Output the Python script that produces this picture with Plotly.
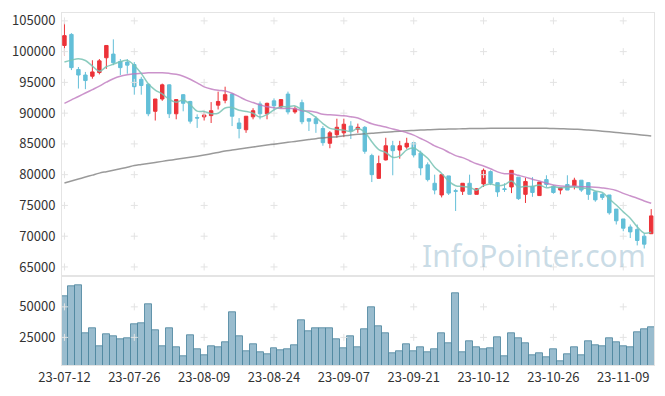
import plotly.graph_objects as go
from plotly.subplots import make_subplots

dates = [
    "23-07-12", "23-07-13", "23-07-14", "23-07-17", "23-07-18", "23-07-19", "23-07-20", "23-07-21", "23-07-24", "23-07-25",
    "23-07-26", "23-07-27", "23-07-28", "23-07-31", "23-08-01", "23-08-02", "23-08-03", "23-08-04", "23-08-07", "23-08-08",
    "23-08-09", "23-08-10", "23-08-11", "23-08-14", "23-08-16", "23-08-17", "23-08-18", "23-08-21", "23-08-22", "23-08-23",
    "23-08-24", "23-08-25", "23-08-28", "23-08-29", "23-08-30", "23-08-31", "23-09-01", "23-09-04", "23-09-05", "23-09-06",
    "23-09-07", "23-09-08", "23-09-11", "23-09-12", "23-09-13", "23-09-14", "23-09-15", "23-09-18", "23-09-19", "23-09-20",
    "23-09-21", "23-09-22", "23-09-25", "23-09-26", "23-09-27", "23-10-04", "23-10-05", "23-10-06", "23-10-10", "23-10-11",
    "23-10-12", "23-10-13", "23-10-16", "23-10-17", "23-10-18", "23-10-19", "23-10-20", "23-10-23", "23-10-24", "23-10-25",
    "23-10-26", "23-10-27", "23-10-30", "23-10-31", "23-11-01", "23-11-02", "23-11-03", "23-11-06", "23-11-07", "23-11-08",
    "23-11-09", "23-11-10", "23-11-13", "23-11-14", "23-11-15",
]

open_ = [101000, 102800, 97100, 96200, 96000, 96600, 99000, 99600, 98400, 98300,
         97900, 95500, 94700, 90300, 92300, 94600, 89900, 93000, 91900, 89300,
         89400, 89600, 91300, 92100, 93100, 88400, 87300, 89400, 91500, 89900,
         92000, 91000, 93100, 90200, 91700, 89100, 89100, 87500, 85100, 86500,
         86800, 87900, 87400, 87700, 83100, 79400, 82400, 84700, 84000, 84500,
         85200, 83500, 81600, 78600, 76700, 79800, 77400, 77300, 78600, 76800,
         78500, 80500, 78700, 77700, 78000, 79600, 76800, 78100, 76600, 79200,
         78100, 77500, 78400, 78200, 79100, 78700, 77200, 76800, 76700, 74400,
         72800, 71500, 71100, 70000, 70400]
high = [104700, 103000, 97500, 96700, 98600, 98800, 101000, 102000, 98800, 98800,
        98300, 95900, 94800, 92300, 94800, 94700, 92300, 93100, 92000, 89800,
        90300, 91800, 93500, 94300, 93200, 89200, 89500, 90800, 91900, 91700,
        92400, 92300, 93500, 91100, 92200, 89200, 89500, 87900, 87100, 89100,
        89100, 88700, 88300, 87900, 83400, 83100, 86000, 85500, 85500, 86000,
        85200, 83900, 82000, 80000, 80000, 79800, 77700, 78600, 80000, 77800,
        81000, 80700, 78700, 78600, 80700, 79600, 79500, 79600, 78800, 79900,
        78300, 78000, 79900, 79500, 79100, 78800, 77300, 77000, 76700, 74400,
        72800, 71900, 71900, 70500, 74400]
low = [99400, 97000, 94000, 93900, 95600, 96300, 97200, 97800, 96200, 96400,
       93000, 93000, 89500, 88800, 92000, 89200, 89000, 90300, 88300, 87600,
       88800, 88400, 90600, 91600, 87900, 85900, 86800, 89000, 89000, 89000,
       90300, 90800, 89800, 89900, 88200, 87100, 86800, 84700, 84300, 86000,
       86100, 85800, 86800, 83400, 78800, 79400, 82300, 79900, 82600, 84200,
       82800, 79900, 78900, 76800, 76300, 76700, 74100, 76700, 76800, 76800,
       78000, 78300, 76400, 77200, 77000, 75900, 75400, 76400, 76600, 78000,
       76900, 76800, 77500, 77600, 77200, 75900, 75600, 75900, 73500, 71900,
       70800, 69700, 68500, 68000, 70400]
close = [102600, 97400, 96200, 95300, 96700, 98500, 101000, 98200, 97400, 97800,
         94300, 94500, 89900, 92300, 94600, 89900, 92200, 91600, 88700, 89200,
         89700, 90400, 91900, 93000, 89500, 87500, 89500, 90400, 89900, 91600,
         91200, 92200, 90200, 90700, 88600, 88700, 88300, 85200, 86800, 87700,
         88200, 87100, 87700, 83800, 80000, 81800, 84700, 83900, 84700, 85100,
         83200, 81100, 79200, 77500, 80000, 77000, 77300, 78600, 76800, 77700,
         80700, 78600, 77200, 77600, 80700, 76100, 78900, 77100, 78800, 78400,
         77100, 77900, 77500, 79100, 77500, 76800, 75900, 76300, 73800, 72500,
         71300, 70700, 69300, 68700, 73300]

ma5 = [98320, 98620, 98840, 98560, 97640, 96820, 97540, 97940, 98360, 98580,
       97740, 96440, 94780, 93760, 93120, 92240, 91780, 92120, 91400, 90320,
       90280, 89920, 89980, 90840, 90900, 90460, 90280, 89980, 89360, 89780,
       90520, 91060, 91020, 91180, 90580, 90080, 89300, 88300, 87520, 87340,
       87240, 87000, 87500, 86900, 85360, 84080, 83600, 82840, 83020, 84040,
       84320, 83600, 82660, 81220, 80200, 78960, 78200, 78080, 77940, 77480,
       78220, 78480, 78200, 78360, 78960, 78040, 78100, 78080, 78320, 77860,
       78060, 77860, 77940, 78000, 77820, 77760, 77360, 77120, 76060, 75060,
       73960, 72920, 71520, 70500, 70660]
ma20 = [91590, 92150, 92700, 93270, 93830, 94390, 95030, 95590, 95990, 96230,
        96390, 96470, 96550, 96550, 96550, 96470, 96310, 95990, 95510, 94920,
        94270, 93920, 93710, 93590, 93230, 92680, 92110, 91720, 91340, 91030,
        90880, 90760, 90780, 90700, 90400, 90340, 90140, 89820, 89730, 89650,
        89580, 89410, 89200, 88740, 88270, 87980, 87740, 87420, 87160, 86830,
        86430, 85880, 85330, 84670, 84240, 83650, 83100, 82770, 82270, 81770,
        81400, 80970, 80450, 80140, 80170, 79890, 79600, 79260, 78960, 78630,
        78320, 78160, 78080, 78160, 78030, 78020, 77950, 77840, 77690, 77430,
        76960, 76560, 76170, 75720, 75350]
ma120 = [78650, 78970, 79290, 79610, 79930, 80250, 80490, 80730, 80970, 81210,
         81480, 81650, 81820, 81990, 82160, 82330, 82500, 82670, 82840, 83010,
         83200, 83400, 83600, 83850, 84000, 84170, 84330, 84490, 84650, 84810,
         84960, 85110, 85260, 85400, 85550, 85700, 85850, 85970, 86080, 86180,
         86310, 86430, 86550, 86660, 86730, 86820, 86900, 86980, 87060, 87150,
         87200, 87250, 87300, 87350, 87380, 87410, 87430, 87460, 87490, 87510,
         87520, 87530, 87540, 87540, 87550, 87550, 87550, 87540, 87540, 87530,
         87510, 87480, 87440, 87390, 87330, 87250, 87160, 87070, 86970, 86860,
         86750, 86640, 86520, 86400, 86290]

volume = [58900, 66900, 67700, 28200, 32300, 17700, 27400, 26300, 23400, 24200,
          35500, 36300, 51800, 30600, 17700, 32300, 16900, 9700, 26600, 15300,
          10500, 17700, 16900, 21000, 45200, 25800, 13700, 19400, 12900, 11300,
          16100, 14500, 15300, 18500, 38700, 29800, 32300, 32300, 32300, 23400,
          16100, 25800, 16900, 31500, 50000, 33900, 28200, 12100, 13700, 19400,
          13700, 16900, 12900, 15300, 28200, 20200, 61300, 12900, 21800, 16900,
          15300, 16100, 25000, 9700, 28200, 24200, 20200, 10500, 12100, 8900,
          15300, 5600, 11300, 16900, 10500, 21800, 18500, 17700, 24200, 21000,
          17700, 16900, 29000, 31500, 33100]

price_ticks = [65000, 70000, 75000, 80000, 85000, 90000, 95000, 100000, 105000]
volume_ticks = [25000, 50000]
date_ticks = dates[::10]

UP = "#ec3238"
DOWN = "#63bfd8"
FONT = "Noto Sans CJK KR"
LINE = "#e4e4e4"
GRIDMARK = "#e3e3e3"

fig = make_subplots(rows=2, cols=1, shared_xaxes=True, vertical_spacing=0,
                    row_heights=[0.748, 0.252])

# grid cross marks at tick intersections
gx = [d for d in date_ticks for _ in price_ticks]
gy = [p for _ in date_ticks for p in price_ticks]
fig.add_trace(go.Scatter(x=gx, y=gy, mode="markers", hoverinfo="skip", showlegend=False,
                         marker=dict(symbol="cross-thin", size=5,
                                     line=dict(color=GRIDMARK, width=1))), row=1, col=1)
vx = [d for d in date_ticks for _ in volume_ticks]
vy = [v for _ in date_ticks for v in volume_ticks]
fig.add_trace(go.Scatter(x=vx, y=vy, mode="markers", hoverinfo="skip", showlegend=False,
                         marker=dict(symbol="cross-thin", size=5,
                                     line=dict(color=GRIDMARK, width=1))), row=2, col=1)

fig.add_trace(go.Candlestick(
    x=dates, open=open_, high=high, low=low, close=close,
    increasing=dict(line=dict(color=UP, width=1), fillcolor=UP),
    decreasing=dict(line=dict(color=DOWN, width=1), fillcolor=DOWN),
    whiskerwidth=0, showlegend=False), row=1, col=1)

fig.add_trace(go.Scatter(x=dates, y=ma120, mode="lines", showlegend=False,
                         line=dict(color="rgba(120,120,120,0.75)", width=1.5, shape="spline")),
              row=1, col=1)
fig.add_trace(go.Scatter(x=dates, y=ma20, mode="lines", showlegend=False,
                         line=dict(color="rgba(190,120,190,0.8)", width=1.5, shape="spline")),
              row=1, col=1)
fig.add_trace(go.Scatter(x=dates, y=ma5, mode="lines", showlegend=False,
                         line=dict(color="rgba(120,195,180,0.85)", width=1.5, shape="spline")),
              row=1, col=1)

fig.add_trace(go.Bar(x=dates, y=volume, showlegend=False,
                     marker=dict(color="rgba(110,160,185,0.7)",
                                 line=dict(color="rgba(80,135,160,0.85)", width=1))),
              row=2, col=1)

axis_common = dict(showgrid=False, zeroline=False, showline=True, mirror=True,
                   linecolor=LINE, linewidth=1, ticks="")
fig.update_xaxes(type="category", categoryorder="array", categoryarray=dates,
                 range=[-0.35, 84.4], rangeslider_visible=False, **axis_common)
fig.update_xaxes(showticklabels=False, row=1, col=1)
fig.update_xaxes(tickmode="array", tickvals=date_ticks, ticktext=date_ticks, tickangle=0,
                 tickfont=dict(family=FONT, size=13, color="#333333"), row=2, col=1)
fig.update_yaxes(**axis_common)
fig.update_yaxes(range=[63480, 106280], tickmode="array", tickvals=price_ticks,
                 ticktext=[str(v) for v in price_ticks],
                 tickfont=dict(family=FONT, size=13, color="#333333"), ticklabelstandoff=3,
                 row=1, col=1)
fig.update_yaxes(range=[2400, 75000], tickmode="array", tickvals=volume_ticks,
                 ticktext=[str(v) for v in volume_ticks],
                 tickfont=dict(family=FONT, size=13, color="#333333"), ticklabelstandoff=3,
                 row=2, col=1)

fig.add_annotation(text="InfoPointer.com", xref="paper", yref="paper", x=0.99, y=0.311,
                   xanchor="right", yanchor="middle", showarrow=False,
                   font=dict(family="Noto Sans", size=30, color="rgba(150,185,205,0.5)"))

# page body has an 8px margin: size the figure so the plot area lands where the reference has it
fig.update_layout(width=649, height=380, margin=dict(l=54, r=2, t=2, b=21),
                  paper_bgcolor="white", plot_bgcolor="white", bargap=0,
                  showlegend=False, hovermode=False)

fig.write_html("out.html")
